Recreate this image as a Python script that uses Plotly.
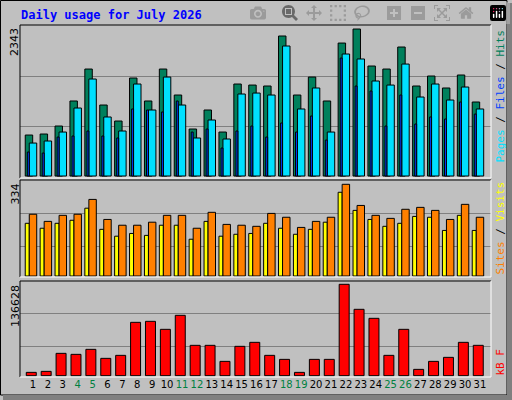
import plotly.graph_objects as go

days = list(range(1, 32))
hits_px = [135,134,126,101,69,105,121,78,101,69,95,129,110,132,84,85,86,36,95,77,101,43,29,66,69,47,86,76,88,75,102]
files_px = [143,141,132,108,79,117,131,84,110,77,105,138,120,139,94,93,95,46,109,88,132,54,59,81,85,64,97,84,100,87,109]
pages_px = [152,153,137,136,131,136,138,109,110,112,101,132,129,148,131,126,137,123,132,116,140,58,86,91,126,95,124,117,119,102,114]
sites_z = [145,160,145,136,100,163,184,175,181,151,151,193,139,184,178,175,145,160,178,163,142,52,106,133,154,145,124,127,166,121,166]
visits_z = [118,139,121,118,73,133,151,151,142,121,121,160,112,148,151,154,115,127,157,139,127,28,91,121,130,103,97,106,133,88,127]
kb_z = [592,589,535,538,523,550,541,442,439,463,421,511,511,559,514,502,541,553,592,553,553,328,403,430,541,463,583,559,547,502,511]

hits = [round((176 - p) / 150 * 2343) for p in hits_px]
files = [round((176 - p) / 150 * 2343) for p in files_px]
pages = [round((176 - p) / 150 * 2343) for p in pages_px]
sites = [round((303 - z) / 275 * 334) for z in sites_z]
visits = [round((303 - z) / 275 * 334) for z in visits_z]
kbytes = [round((602 - z) / 274 * 136628) for z in kb_z]

weekend = {4, 5, 11, 12, 18, 19, 25, 26}
ticktext = [f"<span style='color:#008040'>{d}</span>" if d in weekend else str(d) for d in days]

W, H = 512, 400
def px(x): return x / W
def py(y): return 1 - y / H

fig = go.Figure()
line = dict(color="black", width=1)
fig.add_bar(x=days, y=hits, offset=-0.52, width=0.5, marker=dict(color="#00805C", line=line), xaxis="x", yaxis="y")
fig.add_bar(x=days, y=files, offset=-0.25, width=0.5, marker=dict(color="#00E0FF", line=line), xaxis="x", yaxis="y")
fig.add_bar(x=days, y=pages, offset=-0.38, width=0.13, marker=dict(color="#0040FF", line=line), xaxis="x", yaxis="y")
fig.add_bar(x=days, y=sites, offset=-0.52, width=0.27, marker=dict(color="#FFFF00", line=line), xaxis="x2", yaxis="y2")
fig.add_bar(x=days, y=visits, offset=-0.25, width=0.5, marker=dict(color="#FF8000", line=line), xaxis="x2", yaxis="y2")
fig.add_bar(x=days, y=kbytes, offset=-0.45, width=0.67, marker=dict(color="#FF0000", line=line), xaxis="x3", yaxis="y3")

xr = [0.128, 31.74]
xd = [px(20), px(491)]
common_x = dict(range=xr, domain=xd, showgrid=False, zeroline=False, fixedrange=True)
fig.update_layout(
    width=W, height=H, margin=dict(l=0, r=0, t=0, b=0),
    paper_bgcolor="#C0C0C0", plot_bgcolor="#C0C0C0", showlegend=False, barmode="overlay",
    font=dict(family="DejaVu Sans Mono", size=11, color="black"),
    xaxis=dict(**common_x, showticklabels=False, anchor="y"),
    xaxis2=dict(**common_x, showticklabels=False, anchor="y2"),
    xaxis3=dict(**common_x, anchor="y3", tickvals=days, ticktext=ticktext, ticks="", tickangle=0,
                tickfont=dict(family="DejaVu Sans", size=10, color="black")),
    yaxis=dict(domain=[py(178), py(25)], range=[-31, 2359], tickvals=[781, 1562], showticklabels=False,
               gridcolor="#808080", zeroline=False),
    yaxis2=dict(domain=[py(277), py(180)], range=[-3.6, 349.7], tickvals=[108, 228], showticklabels=False,
                gridcolor="#808080", zeroline=False),
    yaxis3=dict(domain=[py(377), py(281)], range=[-1943, 141560], tickvals=[43950, 93290], showticklabels=False,
                gridcolor="#808080", zeroline=False),
)

shapes = []
shapes.append(dict(type="rect", xref="paper", yref="paper", x0=px(0.5), x1=px(507), y0=py(395), y1=py(0.5),
                   line=dict(color="black", width=1)))
shapes.append(dict(type="rect", xref="paper", yref="paper", x0=px(507), x1=px(512), y0=py(400), y1=py(3),
                   fillcolor="#808080", line=dict(width=0)))
shapes.append(dict(type="rect", xref="paper", yref="paper", x0=px(3), x1=px(512), y0=py(400), y1=py(395),
                   fillcolor="#808080", line=dict(width=0)))
for (t, b) in [(25, 178), (180, 277), (281, 377)]:
    shapes.append(dict(type="line", xref="paper", yref="paper", x0=px(20), x1=px(491), y0=py(t), y1=py(t), line=dict(color="black", width=1)))
    shapes.append(dict(type="line", xref="paper", yref="paper", x0=px(20), x1=px(20), y0=py(t), y1=py(b), line=dict(color="black", width=1)))
    shapes.append(dict(type="line", xref="paper", yref="paper", x0=px(491), x1=px(491), y0=py(t), y1=py(b), line=dict(color="white", width=1)))
    shapes.append(dict(type="line", xref="paper", yref="paper", x0=px(20), x1=px(491), y0=py(b), y1=py(b), line=dict(color="white", width=1)))
fig.update_layout(shapes=shapes)

ann = []
ann.append(dict(text="<b>Daily usage for July 2026</b>", x=px(19), y=py(15), xanchor="left", yanchor="middle",
                font=dict(family="DejaVu Sans Mono", size=12, color="#0000FF")))
for txt, yy in [("2343", 26), ("334", 182), ("136628", 283)]:
    ann.append(dict(text=txt, x=px(15), y=py(yy), textangle=-90, xanchor="center", yanchor="top",
                    font=dict(family="DejaVu Sans", size=11, color="black")))
ann.append(dict(text="<span style='color:#00E0FF'>Pages</span> / <span style='color:#0040FF'>Files</span> / <span style='color:#00805C'>Hits</span>",
                x=px(500), y=py(28), textangle=-90, xanchor="center", yanchor="top",
                font=dict(family="DejaVu Sans Mono", size=11, color="black")))
ann.append(dict(text="<span style='color:#FF8000'>Sites</span> / <span style='color:#FFFF00'>Visits</span>",
                x=px(500), y=py(180), textangle=-90, xanchor="center", yanchor="top",
                font=dict(family="DejaVu Sans Mono", size=11, color="black")))
ann.append(dict(text="kB F", x=px(500), y=py(378), textangle=-90, xanchor="center", yanchor="bottom",
                font=dict(family="DejaVu Sans Mono", size=11, color="#FF0000")))
for a in ann:
    a.update(xref="paper", yref="paper", showarrow=False)
fig.update_layout(annotations=ann)

fig.write_html("out.html", post_script="document.body.style.margin='0';document.body.style.overflow='hidden';")
